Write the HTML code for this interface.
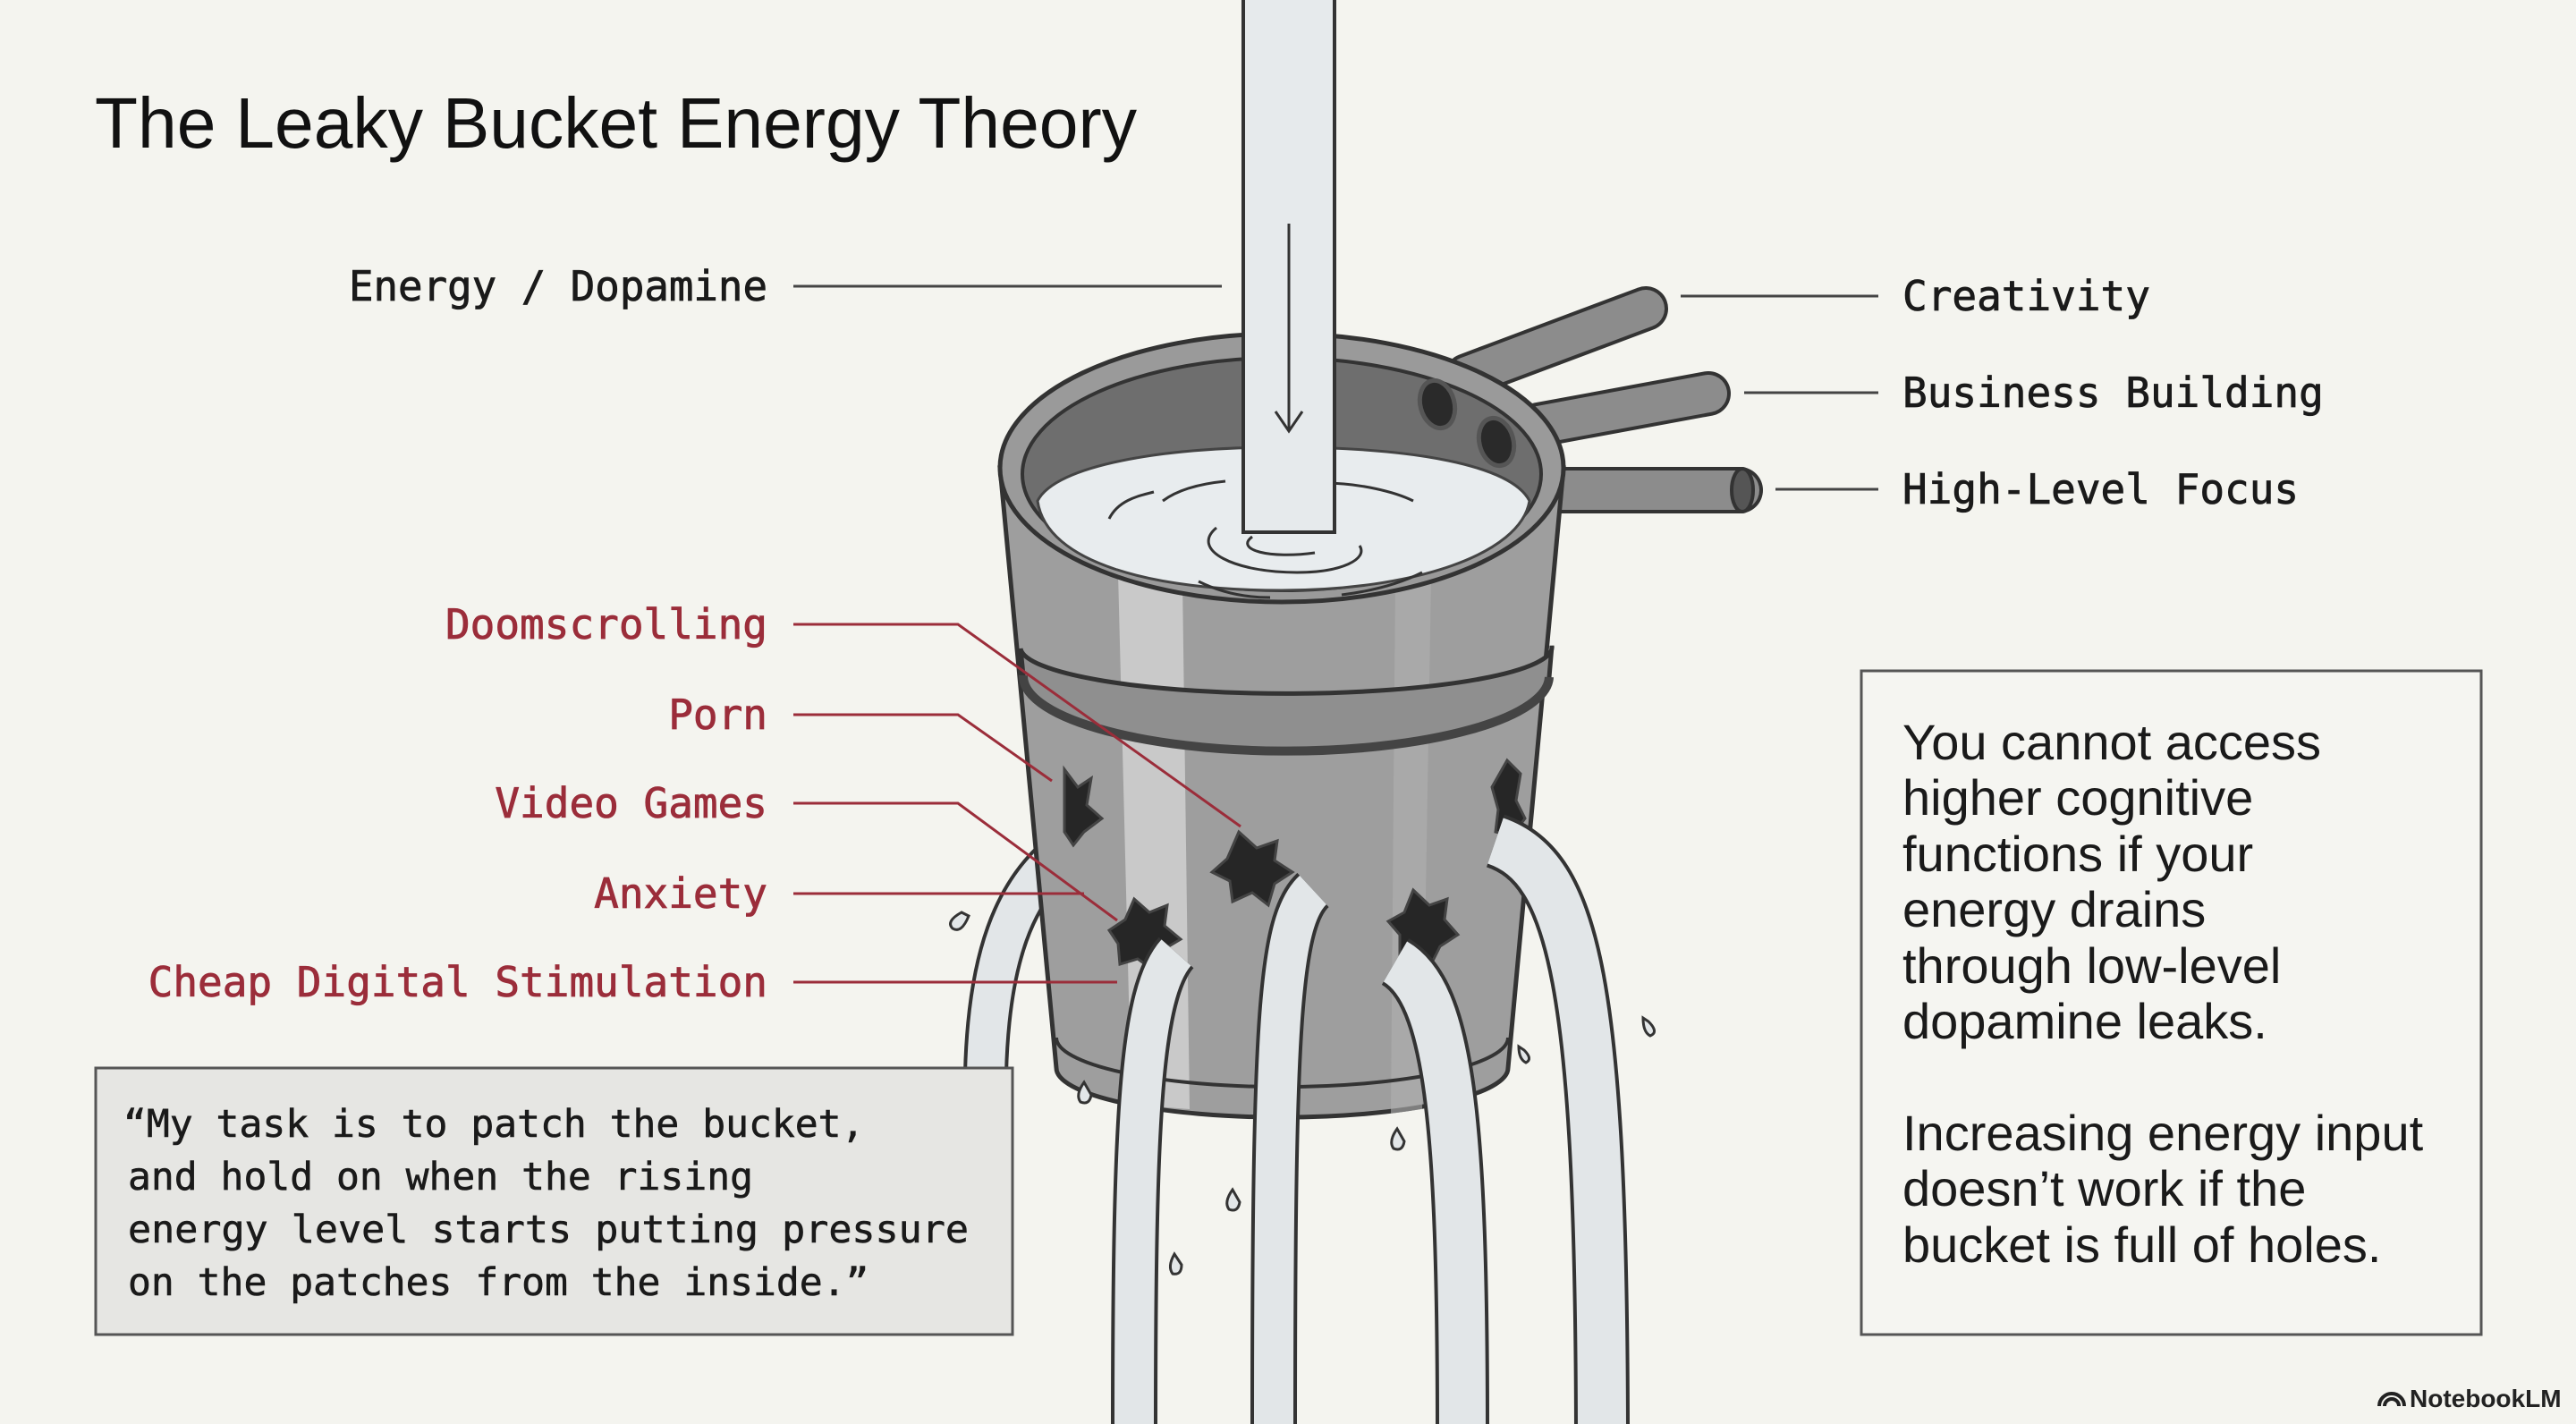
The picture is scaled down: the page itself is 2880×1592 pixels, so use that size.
<!DOCTYPE html>
<html><head><meta charset="utf-8"><style>
html,body{margin:0;padding:0;background:#f4f4ef;}
svg{display:block}
.mono{font-family:"DejaVu Sans Mono","Liberation Mono",monospace;}
.sans{font-family:"Liberation Sans",sans-serif;}
</style></head><body>
<svg width="2880" height="1592" viewBox="0 0 2880 1592" xmlns="http://www.w3.org/2000/svg">
<rect width="2880" height="1592" fill="#f4f4ef"/>
<text x="106" y="165" class="sans" font-size="80" fill="#111" textLength="1165" lengthAdjust="spacingAndGlyphs">The Leaky Bucket Energy Theory</text>

<text x="858" y="336" class="mono" font-size="46" fill="#1a1a1a" stroke="#1a1a1a" stroke-width="0.8" text-anchor="end" textLength="468" lengthAdjust="spacingAndGlyphs">Energy / Dopamine</text>
<line x1="887" y1="320" x2="1366" y2="320" stroke="#444" stroke-width="3"/>

<g class="mono" font-size="46" fill="#9b2d3a" stroke="#9b2d3a" stroke-width="0.8" text-anchor="end">
<text x="858" y="714">Doomscrolling</text>
<text x="858" y="815">Porn</text>
<text x="858" y="914">Video Games</text>
<text x="858" y="1015">Anxiety</text>
<text x="858" y="1114">Cheap Digital Stimulation</text>
</g>

<g class="mono" font-size="46" fill="#1a1a1a" stroke="#1a1a1a" stroke-width="0.8">
<text x="2127" y="347">Creativity</text>
<text x="2127" y="455">Business Building</text>
<text x="2127" y="563">High-Level Focus</text>
</g>
<g stroke="#444" stroke-width="3">
<line x1="1879" y1="331" x2="2100" y2="331"/>
<line x1="1950" y1="439" x2="2100" y2="439"/>
<line x1="1985" y1="547" x2="2100" y2="547"/>
</g>

<g stroke-linecap="round">
<line x1="1640" y1="420" x2="1840" y2="345" stroke="#333" stroke-width="50"/>
<line x1="1640" y1="420" x2="1840" y2="345" stroke="#8c8c8c" stroke-width="42"/>
<line x1="1720" y1="475" x2="1910" y2="440" stroke="#333" stroke-width="50"/>
<line x1="1720" y1="475" x2="1910" y2="440" stroke="#8c8c8c" stroke-width="42"/>
<line x1="1740" y1="548" x2="1945" y2="548" stroke="#333" stroke-width="52"/>
<line x1="1740" y1="548" x2="1945" y2="548" stroke="#8c8c8c" stroke-width="44"/>
</g>
<ellipse cx="1948" cy="548" rx="12" ry="24" fill="#555" stroke="#333" stroke-width="4"/>

<g fill="none">
<path d="M1200,945 C1130,990 1105,1080 1102,1200" stroke="#333" stroke-width="50"/>
<path d="M1200,945 C1130,990 1105,1080 1102,1200" stroke="#e2e6e8" stroke-width="42"/>
</g>

<path d="M1118,523 L1181,1194 A252,55 0 0 0 1686,1194 L1748,523 Z" fill="#9e9e9e" stroke="#333" stroke-width="5"/>
<path d="M1250,640 L1322,650 L1330,1240 L1265,1235 Z" fill="#c9c9c9"/>
<path d="M1560,650 L1600,645 L1590,1240 L1555,1245 Z" fill="#b0b0b0" opacity="0.6"/>
<!-- band -->
<path d="M1141,725 A292,51 0 0 0 1735,722 L1732,757 A288,82 0 0 1 1144,755 Z" fill="#8f8f8f" stroke="#333" stroke-width="5"/>
<path d="M1144,755 A288,82 0 0 0 1732,757" fill="none" stroke="#444" stroke-width="10"/>
<path d="M1181,1160 A252,55 0 0 0 1686,1160" fill="none" stroke="#333" stroke-width="4"/>
<ellipse cx="1433" cy="523" rx="315" ry="150" fill="#9a9a9a" stroke="#333" stroke-width="5"/>
<ellipse cx="1433" cy="530" rx="290" ry="130" fill="#6e6e6e" stroke="#333" stroke-width="4"/>
<path d="M1160,560 C1180,520 1300,500 1433,500 C1580,500 1690,520 1710,560 C1700,620 1580,660 1433,660 C1290,660 1170,630 1160,560 Z" fill="#e8ecee" stroke="#444" stroke-width="3"/>
<g fill="none" stroke="#333" stroke-width="3">
<path d="M1400,600 C1380,615 1420,625 1470,618"/>
<path d="M1360,590 C1330,615 1380,640 1450,640 C1500,640 1530,625 1520,610"/>
<path d="M1300,560 C1320,545 1350,540 1370,538"/>
<path d="M1480,540 C1520,540 1560,550 1580,560"/>
<path d="M1240,580 C1250,560 1270,555 1290,550"/>
<path d="M1340,650 C1370,665 1400,668 1420,668"/>
<path d="M1500,665 C1540,660 1570,650 1590,640"/>
</g>
<ellipse cx="1607" cy="452" rx="19" ry="27" fill="#2a2a2a" stroke="#555" stroke-width="5" transform="rotate(-15 1607 452)"/>
<ellipse cx="1673" cy="494" rx="19" ry="27" fill="#2a2a2a" stroke="#555" stroke-width="5" transform="rotate(-15 1673 494)"/>

<rect x="1390" y="-5" width="102" height="600" fill="#e6eaec" stroke="#333" stroke-width="4"/>
<line x1="1441" y1="250" x2="1441" y2="480" stroke="#333" stroke-width="3"/>
<path d="M1426,460 L1441,482 L1456,460" fill="none" stroke="#333" stroke-width="3"/>

<g fill="#262626" stroke="#444" stroke-width="3">
<polygon points="1190,860 1205,880 1220,870 1215,900 1232,915 1212,930 1200,945 1190,930"/>
<polygon points="1385,930 1405,948 1428,940 1425,962 1445,975 1425,988 1418,1012 1400,998 1378,1008 1375,985 1355,975 1372,960"/>
<polygon points="1268,1005 1285,1020 1305,1012 1302,1035 1320,1050 1300,1062 1290,1085 1272,1072 1252,1078 1250,1055 1240,1040 1258,1028"/>
<polygon points="1580,995 1598,1012 1618,1005 1615,1028 1630,1045 1610,1058 1600,1078 1580,1065 1565,1070 1565,1045 1552,1030 1570,1020"/>
<polygon points="1685,850 1700,865 1695,895 1705,915 1690,935 1672,930 1675,905 1668,880"/>
</g>

<g fill="none">
<path d="M1315,1065 C1275,1110 1268,1250 1268,1600" stroke="#333" stroke-width="52"/>
<path d="M1315,1065 C1275,1110 1268,1250 1268,1600" stroke="#e2e6e8" stroke-width="44"/>
<path d="M1468,995 C1430,1030 1424,1150 1424,1600" stroke="#333" stroke-width="52"/>
<path d="M1468,995 C1430,1030 1424,1150 1424,1600" stroke="#e2e6e8" stroke-width="44"/>
<path d="M1560,1075 C1620,1110 1635,1250 1635,1600" stroke="#333" stroke-width="60"/>
<path d="M1560,1075 C1620,1110 1635,1250 1635,1600" stroke="#e2e6e8" stroke-width="52"/>
<path d="M1672,940 C1760,970 1790,1100 1791,1600" stroke="#333" stroke-width="62"/>
<path d="M1672,940 C1760,970 1790,1100 1791,1600" stroke="#e2e6e8" stroke-width="54"/>
</g>

<g fill="none" stroke="#9b2d3a" stroke-width="3">
<polyline points="887,698 1071,698 1387,924"/>
<polyline points="887,799 1071,799 1176,873"/>
<polyline points="887,898 1071,898 1249,1029"/>
<polyline points="887,999 1212,999"/>
<polyline points="887,1098 1249,1098"/>
</g>

<g fill="#e2e6e8" stroke="#333" stroke-width="3">
<path d="M1075,1020 q-18,10 -10,18 q10,6 18,-14 z"/>
<path d="M1212,1210 q-10,14 -4,22 q10,4 12,-8 z"/>
<path d="M1562,1262 q-10,14 -4,22 q10,4 12,-8 z"/>
<path d="M1378,1330 q-10,14 -4,22 q10,4 12,-8 z"/>
<path d="M1313,1402 q-8,14 -2,22 q10,2 10,-10 z"/>
<path d="M1837,1138 q0,16 8,20 q10,-4 -2,-16 z"/>
<path d="M1698,1170 q0,14 8,18 q8,-4 -2,-14 z"/>
</g>

<rect x="107" y="1194" width="1025" height="298" fill="#e6e6e3" stroke="#555" stroke-width="3"/>
<g class="mono" font-size="43" fill="#1a1a1a" stroke="#1a1a1a" stroke-width="0.6">
<text x="138" y="1271">“My task is to patch the bucket,</text>
<text x="143" y="1330">and hold on when the rising</text>
<text x="143" y="1389" textLength="940" lengthAdjust="spacingAndGlyphs">energy level starts putting pressure</text>
<text x="143" y="1448">on the patches from the inside.”</text>
</g>

<rect x="2081" y="750" width="693" height="742" fill="#f5f5f1" stroke="#555" stroke-width="3"/>
<g class="sans" font-size="56" fill="#1a1a1a">
<text x="2127" y="849">You cannot access</text>
<text x="2127" y="911">higher cognitive</text>
<text x="2127" y="974">functions if your</text>
<text x="2127" y="1036">energy drains</text>
<text x="2127" y="1099">through low-level</text>
<text x="2127" y="1161">dopamine leaks.</text>
<text x="2127" y="1286">Increasing energy input</text>
<text x="2127" y="1348">doesn’t work if the</text>
<text x="2127" y="1411">bucket is full of holes.</text>
</g>

<path d="M2660,1572 a14,14 0 0 1 28,0 M2666,1572 a8,8 0 0 1 16,0" fill="none" stroke="#222" stroke-width="4"/>
<text x="2694" y="1573" class="sans" font-size="28" font-weight="bold" fill="#222">NotebookLM</text>
</svg>
</body></html>
